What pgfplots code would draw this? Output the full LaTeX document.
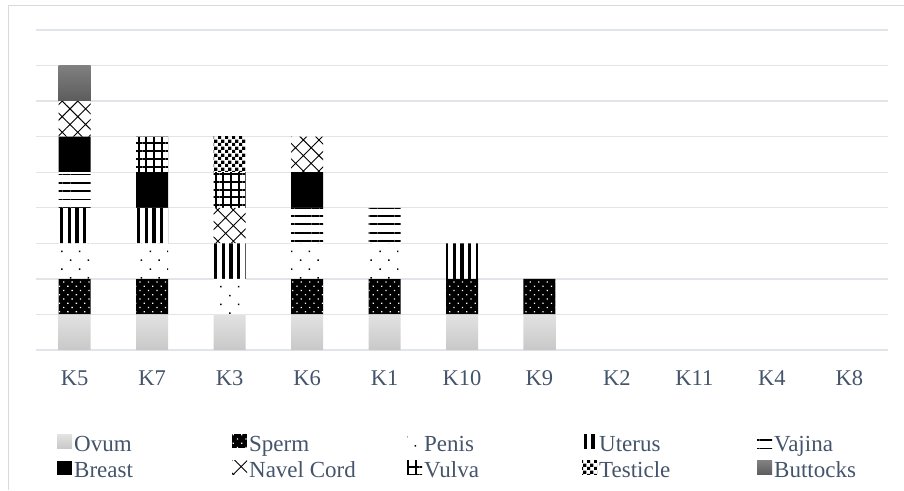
\documentclass[border=0pt]{standalone}
\usepackage{fontspec}
\setmainfont{Liberation Serif}
\usepackage{pgfplots}
\pgfplotsset{compat=1.18}
\usetikzlibrary{patterns,patterns.meta}
\definecolor{txt}{HTML}{44546A}
\definecolor{gridc}{HTML}{E1E5EA}
\definecolor{framec}{HTML}{D9D9D9}
\definecolor{butt1}{RGB}{128,128,128}
\definecolor{butt2}{RGB}{92,92,92}
\definecolor{ov1}{RGB}{226,226,226}
\definecolor{ov2}{RGB}{200,200,200}
\pgfdeclarepatternformonly{bigchecker}{\pgfpointorigin}{\pgfqpoint{6.6pt}{6.6pt}}{\pgfqpoint{6.6pt}{6.6pt}}{%
 \pgfpathrectangle{\pgfpointorigin}{\pgfqpoint{3.35pt}{3.35pt}}%
 \pgfpathrectangle{\pgfqpoint{3.3pt}{3.3pt}}{\pgfqpoint{3.35pt}{3.35pt}}%
 \pgfusepath{fill}}
\newcommand{\lt}[1]{\makebox[152pt][l]{#1\rule[-5pt]{0pt}{22pt}}}
\begin{document}
\begin{tikzpicture}
\path[use as bounding box] (0pt,0pt) rectangle (904pt,-490pt);
\draw[framec, line width=1pt] (8pt,-490pt) -- (8pt,-5pt) -- (904pt,-5pt);
\begin{axis}[
 at={(36pt,-350pt)}, anchor=south west,
 scale only axis, width=852pt, height=320pt,
 ybar stacked, bar width=32pt,
 xmin=-0.5, xmax=10.5, ymin=0, ymax=9,
 xtick={0,...,10}, xticklabels={K5,K7,K3,K6,K1,K10,K9,K2,K11,K4,K8},
 ytick={0,...,9}, yticklabels={},
 ymajorgrids, grid style={gridc, line width=1.3pt},
 axis line style={draw=none},
 major tick length=0pt,
 xticklabel style={font=\fontsize{22.5}{27}\selectfont, text=txt, yshift=-17pt},
 legend columns=5,
 legend style={draw=none, fill=none, at={(0.0211,-0.25)}, anchor=north west,
   font=\fontsize{23}{27}\selectfont, text=txt, row sep=4pt,
   /tikz/every even column/.append style={column sep=4pt}},
 legend cell align=left,
 legend image code/.code={\path[#1] (0pt,-5pt) rectangle (15pt,9pt);},
]
% Ovum
\addplot[draw=none, top color=ov1, bottom color=ov2] coordinates {(0,1) (1,1) (2,1) (3,1) (4,1) (5,1) (6,1) (7,0) (8,0) (9,0) (10,0)};
\addlegendentry{\lt{Ovum}}
% Sperm
\addplot[draw=none, fill=black, postaction={pattern={Dots[distance=6pt,angle=45,radius=0.9pt]}, pattern color=white}] coordinates {(0,1) (1,1) (2,0) (3,1) (4,1) (5,1) (6,1) (7,0) (8,0) (9,0) (10,0)};
\addlegendentry{\lt{Sperm}}
% Penis
\addplot[draw=none, fill=white, postaction={pattern={Dots[distance=12.5pt,angle=45,radius=1.05pt]}, pattern color=black}] coordinates {(0,1) (1,1) (2,1) (3,1) (4,1) (5,0) (6,0) (7,0) (8,0) (9,0) (10,0)};
\addlegendentry{\lt{Penis}}
% Uterus
\addplot[draw=none, fill=white, postaction={pattern={Lines[angle=90,distance=7.7pt,line width=3.3pt]}, pattern color=black}] coordinates {(0,1) (1,1) (2,1) (3,0) (4,0) (5,1) (6,0) (7,0) (8,0) (9,0) (10,0)};
\addlegendentry{\lt{Uterus}}
% Vajina
\addplot[draw=none, fill=white, postaction={pattern={Lines[angle=0,distance=8.3pt,line width=1.8pt]}, pattern color=black}] coordinates {(0,1) (1,0) (2,0) (3,1) (4,1) (5,0) (6,0) (7,0) (8,0) (9,0) (10,0)};
\addlegendentry{\lt{Vajina}}
% Breast
\addplot[draw=none, fill=black] coordinates {(0,1) (1,1) (2,0) (3,1) (4,0) (5,0) (6,0) (7,0) (8,0) (9,0) (10,0)};
\addlegendentry{\lt{Breast}}
% Navel Cord
\addplot[draw=none, fill=white, postaction={pattern={Hatch[angle=45,distance=11pt,line width=0.9pt]}, pattern color=black}] coordinates {(0,1) (1,0) (2,1) (3,1) (4,0) (5,0) (6,0) (7,0) (8,0) (9,0) (10,0)};
\addlegendentry{\lt{Navel Cord}}
% Vulva
\addplot[draw=none, fill=white, postaction={pattern={Hatch[angle=0,distance=7.7pt,line width=2pt]}, pattern color=black}] coordinates {(0,0) (1,1) (2,1) (3,0) (4,0) (5,0) (6,0) (7,0) (8,0) (9,0) (10,0)};
\addlegendentry{\lt{Vulva}}
% Testicle
\addplot[draw=none, fill=white, postaction={pattern=bigchecker, pattern color=black}] coordinates {(0,0) (1,0) (2,1) (3,0) (4,0) (5,0) (6,0) (7,0) (8,0) (9,0) (10,0)};
\addlegendentry{\lt{Testicle}}
% Buttocks
\addplot[draw=none, top color=butt1, bottom color=butt2] coordinates {(0,1) (1,0) (2,0) (3,0) (4,0) (5,0) (6,0) (7,0) (8,0) (9,0) (10,0)};
\addlegendentry{\lt{Buttocks}}
\end{axis}
\end{tikzpicture}
\end{document}
